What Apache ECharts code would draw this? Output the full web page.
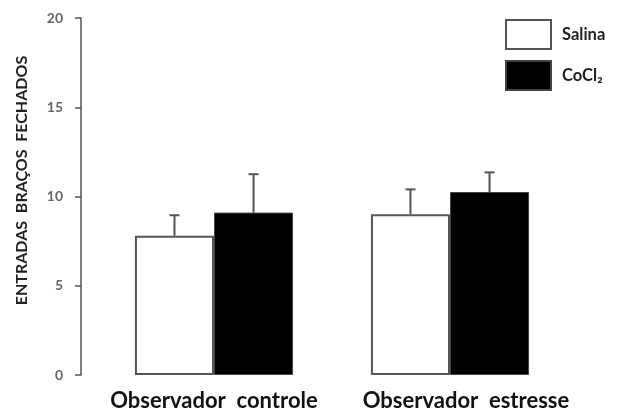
<!DOCTYPE html>
<html><head><meta charset="utf-8">
<script src="https://cdn.jsdelivr.net/npm/echarts@6/dist/echarts.min.js"></script>
<style>html,body{margin:0;padding:0;background:#fff}#c{width:617px;height:414px}</style>
</head><body><div id="c"></div>
<script>
const categories = ['Observador  controle', 'Observador  estresse'];
const salinaMean = [7.8, 9.0];
const salinaErr = [1.15, 1.4];
const cocl2Mean = [9.1, 10.25];
const cocl2Err = [2.15, 1.1];
const yTicks = [0, 5, 10, 15, 20];

const chart = echarts.init(document.getElementById('c'));
const font = 'Lato, "Open Sans", sans-serif';

function errSeries(name, means, errs, idx) {
  return {
    type: 'custom',
    name: name + '_err',
    z: 1,
    data: means.map((m, i) => [i, m, m + errs[i]]),
    renderItem: function (params, api) {
      const base = api.coord([api.value(0), api.value(1)]);
      const top = api.coord([api.value(0), api.value(2)]);
      const bw = api.size([1, 0])[0];
      const barW = bw * (1 - 0.33) / 2;
      const x = base[0] + (idx === 0 ? -barW / 2 : barW / 2);
      const cap = 5;
      const st = { stroke: '#555', lineWidth: 2 };
      return {
        type: 'group',
        children: [
          { type: 'line', shape: { x1: x, y1: base[1], x2: x, y2: top[1] }, style: st },
          { type: 'line', shape: { x1: x - cap, y1: top[1], x2: x + cap, y2: top[1] }, style: st }
        ]
      };
    }
  };
}

chart.setOption({
  animation: false,
  backgroundColor: '#fff',
  grid: { left: 96, right: 49, top: 18, bottom: 39 },
  legend: {
    orient: 'vertical',
    left: 505,
    top: 19,
    padding: 0,
    icon: 'rect',
    itemWidth: 45,
    itemHeight: 29,
    itemGap: 10,
    data: ['Salina', 'CoCl₂'],
    textStyle: { fontFamily: font, fontWeight: 'bold', fontSize: 16.5, color: '#222', padding: [3, 0, 0, 6] }
  },
  xAxis: {
    type: 'category',
    data: categories.map((c, i) => i === 1 ? { value: c, textStyle: { padding: [0, 0, 0, 32] } } : c),
    axisLine: { show: false },
    axisTick: { show: false },
    axisLabel: { fontFamily: font, fontWeight: 'bold', fontSize: 22, color: '#111', margin: 15,
      interval: 0, hideOverlap: false }
  },
  yAxis: {
    type: 'value',
    min: 0, max: 20, interval: 5,
    offset: 15,
    name: 'ENTRADAS  BRAÇOS  FECHADOS',
    nameLocation: 'middle',
    nameGap: 51,
    nameTextStyle: { fontFamily: font, fontWeight: 'bold', fontSize: 16, color: '#222', padding: [0, 0, 0, 32] },
    axisLine: { show: true, lineStyle: { color: '#555', width: 1.5 } },
    axisTick: { show: true, inside: false, length: 6, lineStyle: { color: '#555', width: 1.5 } },
    splitLine: { show: false },
    axisLabel: { fontFamily: font, fontSize: 14, fontWeight: 'bold', color: '#666', margin: 18,
      formatter: v => yTicks.includes(v) ? String(v) : '' }
  },
  series: [
    {
      type: 'bar', name: 'Salina', data: salinaMean,
      barGap: '0%', barCategoryGap: '33%', z: 2,
      itemStyle: { color: '#fff', borderColor: '#555', borderWidth: 2 }
    },
    {
      type: 'bar', name: 'CoCl₂', data: cocl2Mean, z: 2,
      itemStyle: { color: '#000', borderColor: '#444', borderWidth: 1 }
    },
    errSeries('Salina', salinaMean, salinaErr, 0),
    errSeries('CoCl₂', cocl2Mean, cocl2Err, 1)
  ]
});
</script></body></html>
